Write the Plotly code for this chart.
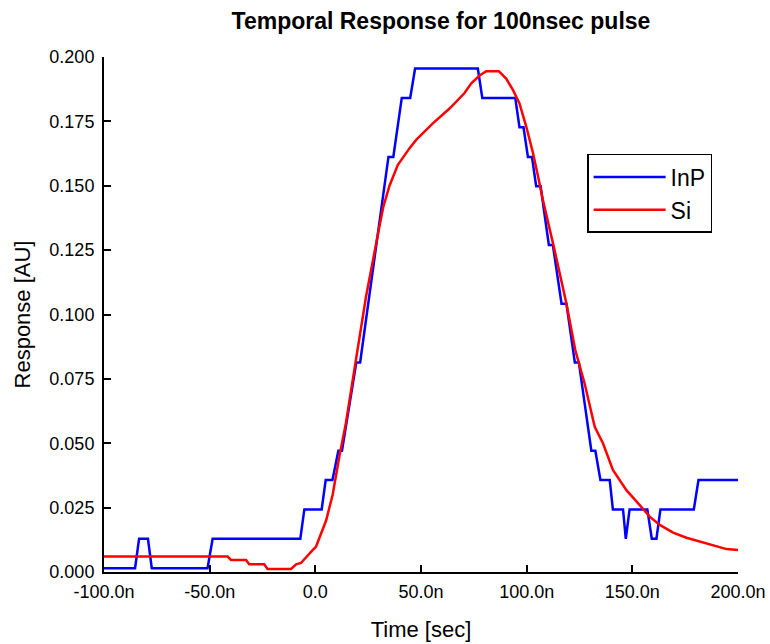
import plotly.graph_objects as go

# InP (blue) – quantized detector trace, time in ns
inp_t = [-100, -85.3, -83.4, -79.2, -77.4, -51.0, -48.6, -7.1, -5.2, 3.0, 4.9, 8.1, 10.9,
         12.6, 19.4, 21.2, 34.6, 36.9, 40.9, 44.9, 47.2, 76.9, 79.0, 94.6, 96.6, 98.5,
         100.6, 102.5, 104.5, 106.6, 110.5, 112.4, 116.5, 118.8, 122.8, 124.7, 130.6,
         132.5, 134.9, 139.3, 140.8, 145.6, 146.9, 148.7, 157.1, 159.2, 161.4, 163.3,
         179.1, 181.3, 200]
inp_v = [0.0015, 0.0015, 0.0129, 0.0129, 0.0015, 0.0015, 0.0129, 0.0129, 0.0243, 0.0243,
         0.0357, 0.0357, 0.0471, 0.0471, 0.0814, 0.0814, 0.1612, 0.1612, 0.1841, 0.1841,
         0.1955, 0.1955, 0.1841, 0.1841, 0.1727, 0.1727, 0.1612, 0.1612, 0.1498, 0.1498,
         0.1270, 0.1270, 0.1042, 0.1042, 0.0814, 0.0814, 0.0471, 0.0471, 0.0357, 0.0357,
         0.0243, 0.0243, 0.0129, 0.0243, 0.0243, 0.0129, 0.0129, 0.0243, 0.0243, 0.0357,
         0.0357]

# Si (red)
si_t = [-100, -41.5, -39.9, -32.8, -31.3, -24.2, -22.6, -11.5, -9.1, -6.8, -1.3, 0.3, 5.1,
        8.2, 11.4, 14.5, 17.7, 18.9, 24.0, 30.0, 32.2, 35.1, 39.0, 44.5, 47.7, 55.6, 63.5,
        70.6, 73.8, 77.7, 80.9, 86.8, 90.3, 93.5, 96.6, 99.8, 102.9, 105.3, 107.7, 113.2,
        118.8, 123.0, 127.4, 132.2, 136.1, 140.8, 147.2, 153.5, 158.2, 163.0, 169.3, 175.6,
        181.9, 188.2, 194.6, 200]
si_v = [0.006, 0.006, 0.0047, 0.0047, 0.003, 0.003, 0.0012, 0.0012, 0.003, 0.0035, 0.0085,
        0.0098, 0.020, 0.030, 0.045, 0.058, 0.0746, 0.081, 0.107, 0.1328, 0.1419, 0.150,
        0.158, 0.1645, 0.1678, 0.1742, 0.180, 0.186, 0.1898, 0.1928, 0.1945, 0.1945, 0.1916,
        0.1872, 0.182, 0.173, 0.163, 0.154, 0.1445, 0.125, 0.1043, 0.0862, 0.0733, 0.0564,
        0.050, 0.0396, 0.0318, 0.026, 0.0215, 0.0183, 0.0153, 0.0133, 0.0118, 0.0105,
        0.0089, 0.0085]

x_ticks = [-100, -50, 0, 50, 100, 150, 200]
x_tick_text = ["-100.0n", "-50.0n", "0.0", "50.0n", "100.0n", "150.0n", "200.0n"]
y_ticks = [0, 0.025, 0.05, 0.075, 0.1, 0.125, 0.15, 0.175, 0.2]

FONT = "Liberation Sans, Arial, sans-serif"

fig = go.Figure()
fig.add_trace(go.Scatter(x=inp_t, y=inp_v, mode="lines", name="InP",
                         line=dict(color="#0000ff", width=2.5)))
fig.add_trace(go.Scatter(x=si_t, y=si_v, mode="lines", name="Si",
                         line=dict(color="#ff0000", width=2.5)))

fig.update_layout(
    width=770, height=644,
    margin=dict(l=104, r=32, t=57, b=72),
    paper_bgcolor="white", plot_bgcolor="white",
    font=dict(family=FONT, color="black", size=18),
    title=dict(text="<b>Temporal Response for 100nsec pulse</b>",
               font=dict(size=23, family=FONT, color="black"),
               x=0.5727, xref="container", xanchor="center",
               y=0.967, yref="container", yanchor="middle"),
    legend=dict(x=0.762, y=0.8117, xanchor="left", yanchor="top",
                bordercolor="black", borderwidth=1.5, bgcolor="white",
                font=dict(size=23, family=FONT), itemwidth=72,
                tracegroupgap=0),
    showlegend=True,
)
fig.update_xaxes(range=[-100, 200], tickvals=x_ticks, ticktext=x_tick_text,
                 automargin=False,
                 showgrid=False, zeroline=False, showline=True, linecolor="black",
                 linewidth=2, ticks="inside", ticklen=7, tickwidth=2, tickcolor="black",
                 ticklabelstandoff=2, tickfont=dict(size=18),
                 title=dict(text="Time [sec]", font=dict(size=22), standoff=21))
fig.update_yaxes(range=[0, 0.2], tickvals=y_ticks, tickformat=".3f",
                 automargin=False,
                 showgrid=False, zeroline=False, showline=True, linecolor="black",
                 linewidth=2, ticks="inside", ticklen=7, tickwidth=2, tickcolor="black",
                 ticklabelstandoff=4, tickfont=dict(size=18),
                 title=dict(text="Response [AU]", font=dict(size=22), standoff=13))

# remove the default 8px page margin so the 770x644 figure fills the window exactly
fig.write_html("out.html",
               config={"displayModeBar": False},
               post_script="document.body.style.margin='0';"
                           "document.body.style.overflow='hidden';")
